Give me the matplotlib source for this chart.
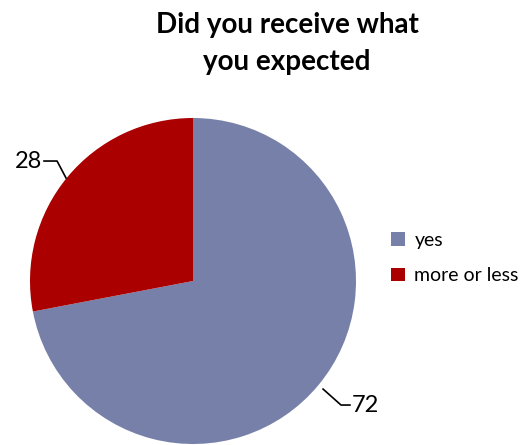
import matplotlib
matplotlib.use("Agg")
import matplotlib.pyplot as plt

plt.rcParams['font.family'] = ['Lato', 'DejaVu Sans']

labels = ['yes', 'more or less']
values = [72, 28]
colors = ['#7780A8', '#AA0000']

W, H = 525, 445
cx, cy, r = 193, 281, 163

fig = plt.figure(figsize=(W / 100, H / 100), dpi=100)
ax = fig.add_axes([(cx - r) / W, (H - cy - r) / H, 2 * r / W, 2 * r / H])
wedges, _ = ax.pie(values, colors=colors, startangle=90, counterclock=False,
                   radius=1.0, wedgeprops=dict(linewidth=0))
ax.set_xlim(-1, 1)
ax.set_ylim(-1, 1)
ax.axis('off')

# value labels with leader lines
ax.plot([-0.914, -0.834, -0.779], [0.736, 0.736, 0.632], color='black',
        lw=1.2, clip_on=False)
ax.text(-0.926, 0.736, str(values[1]), ha='right', va='center', fontsize=17,
        clip_on=False)
ax.plot([0.798, 0.908, 0.963], [-0.663, -0.761, -0.761], color='black',
        lw=1.2, clip_on=False)
ax.text(0.975, -0.761, str(values[0]), ha='left', va='center', fontsize=17,
        clip_on=False)

fig.text(287 / W, 1 - 25 / H, 'Did you receive what', ha='center',
         va='center', fontsize=20, fontweight='bold')
fig.text(287 / W, 1 - 62 / H, 'you expected', ha='center', va='center',
         fontsize=20, fontweight='bold')

fig.legend(wedges, labels, loc='center left',
           bbox_to_anchor=(383 / W, 1 - 258 / H), frameon=False, fontsize=14,
           handlelength=0.72, handleheight=0.72, handletextpad=0.5,
           labelspacing=0.95, borderaxespad=0)

fig.savefig('out.png', dpi=100)
